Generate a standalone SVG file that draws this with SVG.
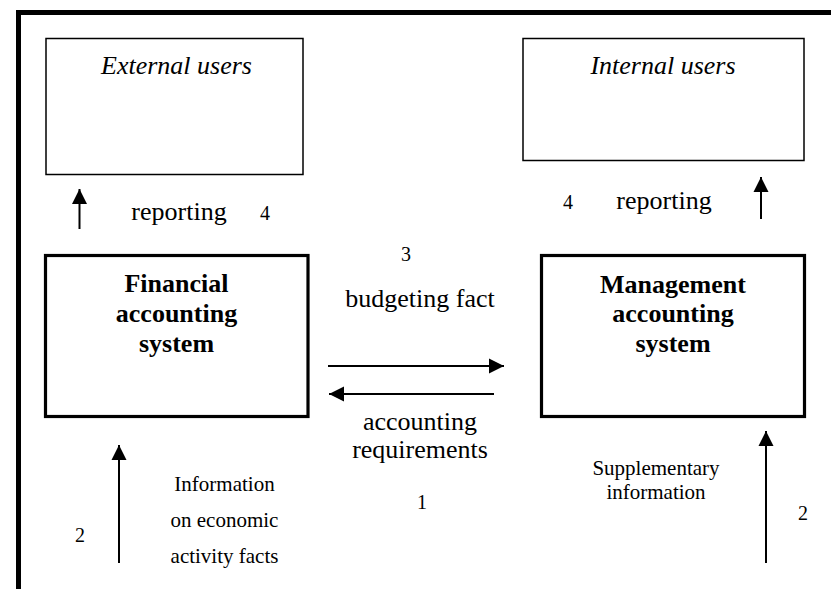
<svg xmlns="http://www.w3.org/2000/svg" width="831" height="589" viewBox="0 0 831 589">
<style>
  text { font-family: "Liberation Serif", "Times New Roman", serif; fill: #000; }
  .t26 { font-size: 26px; }
  .it { font-style: italic; }
  .b26 { font-size: 26px; font-weight: bold; }
  .s21 { font-size: 21px; }
  .num { font-size: 20px; }
  .thin { fill: #fff; stroke: #000; stroke-width: 1.5; }
  .thick { fill: #fff; stroke: #000; stroke-width: 3.2; }
  .conn { stroke: #000; stroke-width: 2; fill: none; marker-end: url(#ah); }
</style>
<defs>
  <marker id="ah" markerUnits="userSpaceOnUse" markerWidth="16" markerHeight="16" viewBox="0 0 16 16" refX="15" refY="8" orient="auto">
    <path d="M0,0.5 L15,8 L0,15.5 Z" fill="#000"/>
  </marker>
</defs>
<rect width="831" height="589" fill="#fff"/>
<path d="M18.5,589 V12.5 H831" fill="none" stroke="#000" stroke-width="5"/>

<g id="external-users">
  <rect class="thin" x="46" y="38.5" width="257" height="136"/>
  <text class="t26 it" x="176.5" y="74" text-anchor="middle">External users</text>
</g>
<g id="internal-users">
  <rect class="thin" x="523" y="38.5" width="281" height="122"/>
  <text class="t26 it" x="663" y="74" text-anchor="middle">Internal users</text>
</g>
<g id="financial">
  <rect class="thick" x="45.5" y="255.5" width="262.5" height="161"/>
  <text class="b26" text-anchor="middle" x="176.5" y="292">Financial</text>
  <text class="b26" text-anchor="middle" x="176.5" y="322">accounting</text>
  <text class="b26" text-anchor="middle" x="176.5" y="352">system</text>
</g>
<g id="management">
  <rect class="thick" x="541.5" y="255.5" width="263" height="161"/>
  <text class="b26" text-anchor="middle" x="673" y="293">Management</text>
  <text class="b26" text-anchor="middle" x="673" y="322">accounting</text>
  <text class="b26" text-anchor="middle" x="673" y="352">system</text>
</g>

<g id="connectors">
  <line class="conn" x1="79.5" y1="229" x2="79.5" y2="189"/>
  <line class="conn" x1="761" y1="219" x2="761" y2="177"/>
  <line class="conn" x1="328" y1="366" x2="504" y2="366"/>
  <line class="conn" x1="494" y1="394" x2="329" y2="394"/>
  <line class="conn" x1="119" y1="563" x2="119" y2="445"/>
  <line class="conn" x1="766" y1="563" x2="766" y2="431"/>
</g>

<g id="labels">
  <text class="t26" x="179" y="220" text-anchor="middle">reporting</text>
  <text class="num" x="265" y="220" text-anchor="middle">4</text>
  <text class="num" x="568" y="209" text-anchor="middle">4</text>
  <text class="t26" x="664" y="209" text-anchor="middle">reporting</text>
  <text class="num" x="406" y="261" text-anchor="middle">3</text>
  <text class="t26" x="420" y="307" text-anchor="middle">budgeting fact</text>
  <text class="t26" x="420" y="430" text-anchor="middle">accounting</text>
  <text class="t26" x="420" y="458" text-anchor="middle">requirements</text>
  <text class="num" x="422" y="509" text-anchor="middle">1</text>
  <text class="s21" x="224.5" y="491" text-anchor="middle">Information</text>
  <text class="s21" x="224.5" y="527" text-anchor="middle">on economic</text>
  <text class="s21" x="224.5" y="563" text-anchor="middle">activity facts</text>
  <text class="num" x="80" y="542" text-anchor="middle">2</text>
  <text class="s21" x="656" y="475" text-anchor="middle">Supplementary</text>
  <text class="s21" x="656" y="499" text-anchor="middle">information</text>
  <text class="num" x="803" y="520" text-anchor="middle">2</text>
</g>
</svg>
